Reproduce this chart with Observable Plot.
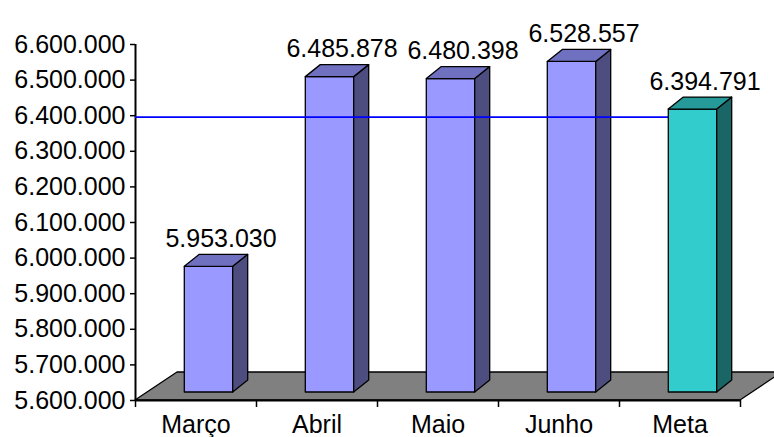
<!DOCTYPE html>
<html><head><meta charset="utf-8">
<script src="https://cdn.jsdelivr.net/npm/d3@7"></script>
<script src="https://cdn.jsdelivr.net/npm/@observablehq/plot@0.6"></script>
<style>
body{margin:0;background:#fff}
svg{overflow:visible}
</style>
</head><body><div id="chart"></div>
<script>
const categories = ["Março", "Abril", "Maio", "Junho", "Meta"];
const values = [5953030, 6485878, 6480398, 6528557, 6394791];
const yTicks = [5600000, 5700000, 5800000, 5900000, 6000000, 6100000, 6200000, 6300000, 6400000, 6500000, 6600000];
const metaValue = 6394791;
const yMin = 5600000, yMax = 6600000;

const fmt = d3.formatLocale({decimal: ",", thousands: ".", grouping: [3], currency: ["", ""]}).format(",d");
const data = categories.map((c, i) => ({i, category: c, value: values[i], meta: c === "Meta"}));

// 3D styling (pixels)
const FLOOR = {dx: 42, dy: -28};
const PLANE = {dx: 13, dy: -8};
const DEPTH = {dx: 15, dy: -12};
const BARW = 0.4;
const COLORS = {
  normal: {front: "#9999ff", side: "#4d4d80", top: "#7070c0"},
  meta: {front: "#33cccc", side: "#1a6666", top: "#269999"}
};

function poly(g, pts, fill) {
  g.append("path")
    .attr("d", "M" + pts.map(p => p.join(",")).join("L") + "Z")
    .attr("fill", fill)
    .attr("stroke", "#000")
    .attr("stroke-width", 1.3)
    .attr("stroke-linejoin", "round");
}

function floorMark(index, scales) {
  const {x, y} = scales;
  const g = d3.create("svg:g");
  const x0 = x(0), x1 = x(categories.length), yb = y(yMin);
  poly(g, [[x0, yb], [x0 + FLOOR.dx, yb + FLOOR.dy], [x1 + FLOOR.dx, yb + FLOOR.dy], [x1, yb]], "#808080");
  return g.node();
}

function barsMark(filter) {
  return (index, scales) => {
    const {x, y} = scales;
    const g = d3.create("svg:g");
    const w = (x(1) - x(0)) * BARW;
    data.filter(filter).forEach(d => {
      const c = d.meta ? COLORS.meta : COLORS.normal;
      const xa = x(d.i + 0.5) - w / 2 + PLANE.dx, xb = xa + w;
      const yt = y(d.value) + PLANE.dy, yb = y(yMin) + PLANE.dy;
      poly(g, [[xa, yt], [xb, yt], [xb, yb], [xa, yb]], c.front);
      poly(g, [[xb, yt], [xb + DEPTH.dx, yt + DEPTH.dy], [xb + DEPTH.dx, yb + DEPTH.dy], [xb, yb]], c.side);
      poly(g, [[xa, yt], [xa + DEPTH.dx, yt + DEPTH.dy], [xb + DEPTH.dx, yt + DEPTH.dy], [xb, yt]], c.top);
    });
    return g.node();
  };
}

function metaLineMark(index, scales) {
  const {x, y} = scales;
  const g = d3.create("svg:g");
  const w = (x(1) - x(0)) * BARW;
  const mi = categories.indexOf("Meta");
  const xEnd = x(mi + 0.5) - w / 2 + PLANE.dx;
  g.append("line")
    .attr("x1", x(0)).attr("x2", xEnd)
    .attr("y1", y(metaValue)).attr("y2", y(metaValue))
    .attr("stroke", "#0000ff").attr("stroke-width", 1.8);
  return g.node();
}

const chart = Plot.plot({
  width: 774,
  height: 437,
  marginLeft: 135,
  marginRight: 34,
  marginTop: 44,
  marginBottom: 37,
  style: {fontFamily: "'Liberation Sans', Arial, sans-serif", fontSize: "25px", background: "#fff", color: "#000", overflow: "visible"},
  x: {type: "linear", domain: [0, categories.length], label: null},
  y: {domain: [yMin, yMax], label: null},
  marks: [
    floorMark,
    Plot.axisY({ticks: yTicks, tickFormat: fmt, tickSize: 5, tickPadding: 5, fontSize: 25, label: null, strokeWidth: 1.5}),
    Plot.axisX({ticks: d3.range(categories.length + 1), tickFormat: () => "", tickSize: 7, label: null, strokeWidth: 1.5}),
    Plot.axisX({ticks: categories.map((c, i) => i + 0.5), tickFormat: t => categories[Math.floor(t)], tickSize: 0, tickPadding: 15, fontSize: 25, label: null}),
    Plot.ruleX([0], {y1: yMin, y2: yMax, stroke: "#000", strokeWidth: 2}),
    Plot.ruleY([yMin], {x1: 0, x2: categories.length, stroke: "#000", strokeWidth: 2}),
    barsMark(d => !d.meta),
    metaLineMark,
    barsMark(d => d.meta),
    Plot.text(data, {x: d => d.i + 0.5, y: "value", text: d => fmt(d.value), dx: 25, dy: -28, lineAnchor: "bottom", textAnchor: "middle", fontSize: 25, fill: "#000"})
  ]
});
document.getElementById("chart").appendChild(chart);
</script>
</body></html>
